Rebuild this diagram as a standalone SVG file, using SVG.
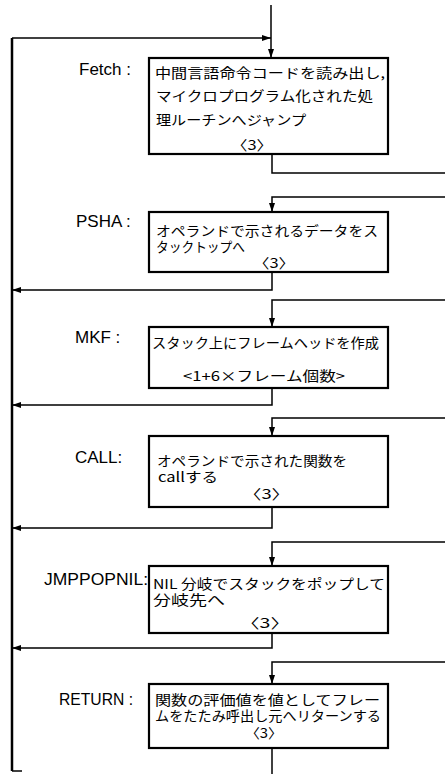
<svg xmlns="http://www.w3.org/2000/svg" width="445" height="774" viewBox="0 0 445 774">
<defs>
<marker id="ah" markerWidth="10" markerHeight="8" refX="9" refY="4" orient="auto" markerUnits="userSpaceOnUse">
<path d="M0,1 L9,4 L0,7 Z" fill="#000"/>
</marker>
<style>
.box{fill:#fff;stroke:#000;stroke-width:2.2}
.ln{fill:none;stroke:#000;stroke-width:1.5}
.main{fill:none;stroke:#000;stroke-width:2.5}
.lbl{font-family:"Liberation Sans","DejaVu Sans",sans-serif;font-size:17px;fill:#000}
.t{font-family:"Noto Sans CJK JP","Noto Sans",sans-serif;font-size:13.5px;fill:#000}
</style>
</defs>
<rect width="445" height="774" fill="#fff"/>
<g id="connectors">
<path class="main" d="M12,771 L12,38"/>
<path class="ln" d="M12,771 L22,771"/>
<path class="ln" d="M12,38 L271,38" marker-end="url(#ah)"/>
<path class="ln" d="M271,5 L271,58" marker-end="url(#ah)"/>
<path class="ln" d="M272,154 L272,173 L445,173"/>
<path class="ln" d="M445,197 L272,197 L272,212" marker-end="url(#ah)"/>
<path class="ln" d="M272,272 L272,290 L12,290" marker-end="url(#ah)"/>
<path class="ln" d="M445,300 L272,300 L272,327" marker-end="url(#ah)"/>
<path class="ln" d="M272,388 L272,405 L12,405" marker-end="url(#ah)"/>
<path class="ln" d="M445,418 L272,418 L272,436" marker-end="url(#ah)"/>
<path class="ln" d="M272,507 L272,528 L12,528" marker-end="url(#ah)"/>
<path class="ln" d="M445,542 L272,542 L272,566" marker-end="url(#ah)"/>
<path class="ln" d="M272,633 L272,648 L12,648" marker-end="url(#ah)"/>
<path class="ln" d="M445,662 L272,662 L272,684" marker-end="url(#ah)"/>
<path class="ln" d="M272,748 L272,774"/>
</g>
<g id="fetch">
<text class="lbl" x="79" y="75">Fetch :</text>
<rect class="box" x="149" y="58" width="239" height="96"/>
<text class="t" x="155" y="78" textLength="230" lengthAdjust="spacingAndGlyphs">中間言語命令コードを読み出し,</text>
<text class="t" x="156" y="101" textLength="217" lengthAdjust="spacingAndGlyphs">マイクロプログラム化された処</text>
<text class="t" x="156" y="125" textLength="150" lengthAdjust="spacingAndGlyphs">理ルーチンへジャンプ</text>
<text class="t" x="231" y="150" textLength="42" lengthAdjust="spacingAndGlyphs">〈3〉</text>
</g>
<g id="psha">
<text class="lbl" x="76" y="227">PSHA :</text>
<rect class="box" x="149" y="212" width="239" height="60"/>
<text class="t" x="156" y="236" textLength="222" lengthAdjust="spacingAndGlyphs">オペランドで示されるデータをス</text>
<text class="t" x="156" y="252" textLength="89" lengthAdjust="spacingAndGlyphs">タックトップへ</text>
<text class="t" x="253" y="268" textLength="42" lengthAdjust="spacingAndGlyphs">〈3〉</text>
</g>
<g id="mkf">
<text class="lbl" x="75" y="343">MKF :</text>
<rect class="box" x="149" y="327" width="239" height="61"/>
<text class="t" x="152" y="348" textLength="227" lengthAdjust="spacingAndGlyphs">スタック上にフレームヘッドを作成</text>
<text class="t" x="183" y="381" textLength="162" lengthAdjust="spacingAndGlyphs">&lt;1+6×フレーム個数&gt;</text>
</g>
<g id="call">
<text class="lbl" x="75" y="463">CALL:</text>
<rect class="box" x="149" y="436" width="239" height="71"/>
<text class="t" x="157" y="466" textLength="190" lengthAdjust="spacingAndGlyphs">オペランドで示された関数を</text>
<text class="t" x="158" y="482" textLength="60" lengthAdjust="spacingAndGlyphs">callする</text>
<text class="t" x="243" y="499" textLength="47" lengthAdjust="spacingAndGlyphs">〈3〉</text>
</g>
<g id="jmppopnil">
<text class="lbl" x="44" y="585" textLength="104" lengthAdjust="spacingAndGlyphs">JMPPOPNIL:</text>
<rect class="box" x="149" y="566" width="239" height="67"/>
<text class="t" x="153" y="589" textLength="232" lengthAdjust="spacingAndGlyphs">NIL 分岐でスタックをポップして</text>
<text class="t" x="153" y="605" textLength="72" lengthAdjust="spacingAndGlyphs">分岐先へ</text>
<text class="t" x="240" y="628" textLength="50" lengthAdjust="spacingAndGlyphs">〈3〉</text>
</g>
<g id="return">
<text class="lbl" x="59" y="705" textLength="74" lengthAdjust="spacingAndGlyphs">RETURN :</text>
<rect class="box" x="149" y="684" width="239" height="64"/>
<text class="t" x="155" y="705" textLength="225" lengthAdjust="spacingAndGlyphs">関数の評価値を値としてフレー</text>
<text class="t" x="155" y="721" textLength="226" lengthAdjust="spacingAndGlyphs">ムをたたみ呼出し元へリターンする</text>
<text class="t" x="245" y="738" textLength="38" lengthAdjust="spacingAndGlyphs">〈3〉</text>
</g>
</svg>
